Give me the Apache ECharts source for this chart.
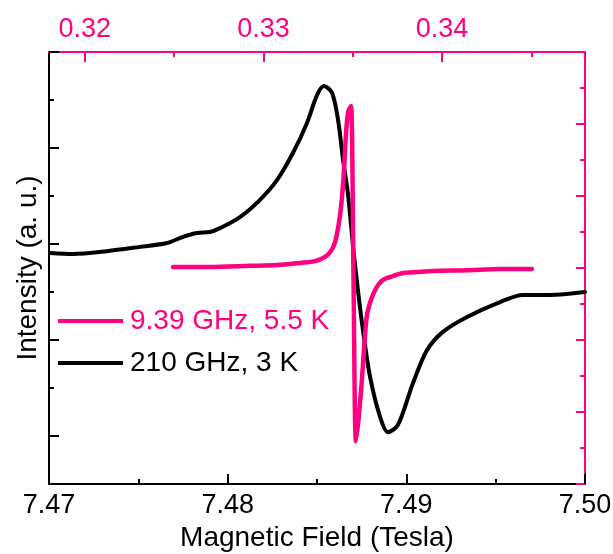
<!DOCTYPE html>
<html>
<head>
<meta charset="utf-8">
<script src="https://cdn.jsdelivr.net/npm/echarts@6/dist/echarts.min.js"></script>
<style>
html,body{margin:0;padding:0;background:#fff;}
#chart{width:613px;height:554px;}
</style>
</head>
<body>
<div id="chart"></div>
<script>
// 210 GHz, 3 K (bottom axis, Tesla)
var blackField = [7.47006, 7.47134, 7.47325, 7.47509, 7.47660, 7.47750, 7.47828, 7.47901, 7.47957, 7.48069,
  7.48181, 7.48276, 7.48366, 7.48444, 7.48500, 7.48539, 7.48584, 7.48618, 7.48646, 7.48674,
  7.48701, 7.48729, 7.48757, 7.48797, 7.48853, 7.48897, 7.48953, 7.49037, 7.49116, 7.49205,
  7.49340, 7.49524, 7.49653, 7.49804, 7.50000];
var blackIntensity = [3.81, 3.79, 3.85, 3.94, 4.02, 4.15, 4.23, 4.25, 4.33, 4.56,
  4.92, 5.33, 5.90, 6.52, 7.10, 7.29, 7.15, 6.58, 5.75, 5.02,
  3.98, 3.04, 2.21, 1.23, 0.40, 0.08, 0.23, 1.10, 1.79, 2.17,
  2.48, 2.79, 2.94, 2.94, 3.00];
// 9.39 GHz, 5.5 K (top axis, Tesla)
var pinkField = [0.32494, 0.32701, 0.32925, 0.33076, 0.33205, 0.33289, 0.33345, 0.33378, 0.33401, 0.33418,
  0.33429, 0.33440, 0.33451, 0.33462, 0.33474, 0.33490, 0.33504, 0.33518, 0.33532, 0.33550,
  0.33578, 0.33602, 0.33634, 0.33669, 0.33709, 0.33781, 0.33860, 0.33949, 0.34140, 0.34324,
  0.34503];
var pinkIntensity = [6.03, 6.03, 6.06, 6.08, 6.14, 6.19, 6.31, 6.47, 6.72, 7.11,
  7.47, 7.97, 8.72, 9.69, 10.33, 10.50, 5.83, 1.19, 1.78, 2.81,
  4.64, 5.11, 5.47, 5.67, 5.75, 5.86, 5.89, 5.92, 5.94, 5.97,
  5.97];
var seriesNames = ['210 GHz, 3 K', '9.39 GHz, 5.5 K'];

// axis ranges and tick values
var bottomRange = [7.47, 7.50];
var bottomMajor = [7.47, 7.48, 7.49, 7.50];
var bottomMinor = [7.475, 7.485, 7.495];
var topRange = [0.318, 0.348];
var topMajor = [0.32, 0.33, 0.34];
var topMinor = [0.325, 0.335, 0.345];
var leftRange = [-1, 8];
var leftMajor = [0, 2, 4, 6, 8];
var leftMinor = [1, 3, 5, 7];
var rightRange = [0, 12];
var rightMajor = [0, 2, 4, 6, 8, 10, 12];
var rightMinor = [1, 3, 5, 7, 9, 11];
var xTitle = 'Magnetic Field (Tesla)';
var yTitle = 'Intensity (a. u.)';

var PINK = '#FF0080';
var FONT = '"Liberation Sans", Arial, sans-serif';
var GRID = { left: 49, right: 28, top: 52, bottom: 70, containLabel: false, outerBoundsMode: 'none' };

function pairs(xs, ys) { return xs.map(function (x, i) { return [x, ys[i]]; }); }

function majorAxis(pos, range, major, color, tickLen, labels, fmt) {
  return {
    type: 'value', position: pos, min: range[0], max: range[1], gridIndex: 0,
    axisLine: { show: true, onZero: false, lineStyle: { color: color, width: 2 } },
    axisTick: { show: true, inside: true, length: tickLen, customValues: major,
      lineStyle: { color: color, width: 2 } },
    splitLine: { show: false },
    axisLabel: labels ? { show: true, customValues: major, fontSize: 27, color: color,
      margin: 8, fontFamily: FONT, formatter: fmt } : { show: false }
  };
}
function minorAxis(pos, range, minor, color) {
  return {
    type: 'value', position: pos, min: range[0], max: range[1], gridIndex: 1,
    axisLine: { show: false, onZero: false },
    axisTick: { show: true, inside: true, length: 5, customValues: minor,
      lineStyle: { color: color, width: 2 } },
    splitLine: { show: false },
    axisLabel: { show: false }
  };
}

var xBottom = majorAxis('bottom', bottomRange, bottomMajor, '#000', 10, true,
  function (v) { return v.toFixed(2); });
xBottom.name = xTitle;
xBottom.nameLocation = 'middle';
xBottom.nameGap = 36;
xBottom.nameTextStyle = { fontSize: 28, color: '#000', fontFamily: FONT };

var xTop = majorAxis('top', topRange, topMajor, PINK, 10, true,
  function (v) { return v.toFixed(2); });
xTop.axisLabel.margin = 9;

var yLeft = majorAxis('left', leftRange, leftMajor, '#000', 10, false);
yLeft.name = yTitle;
yLeft.nameLocation = 'middle';
yLeft.nameGap = 7;
yLeft.nameRotate = 90;
yLeft.nameTextStyle = { fontSize: 28, color: '#000', fontFamily: FONT };

var yRight = majorAxis('right', rightRange, rightMajor, PINK, 9, false);

var chart = echarts.init(document.getElementById('chart'));
chart.setOption({
  animation: false,
  backgroundColor: '#fff',
  textStyle: { fontFamily: FONT },
  grid: [GRID, GRID],
  legend: {
    orient: 'vertical', left: 53, top: 302, itemWidth: 65, itemHeight: 4, itemGap: 14,
    icon: 'rect',
    textStyle: { fontSize: 28, fontFamily: FONT, padding: [0, 0, 0, 2] },
    data: [
      { name: seriesNames[1], textStyle: { color: PINK } },
      { name: seriesNames[0], textStyle: { color: '#000' } }
    ]
  },
  xAxis: [
    xBottom,
    xTop,
    minorAxis('bottom', bottomRange, bottomMinor, '#000'),
    minorAxis('top', topRange, topMinor, PINK)
  ],
  yAxis: [
    yLeft,
    yRight,
    minorAxis('left', leftRange, leftMinor, '#000'),
    minorAxis('right', rightRange, rightMinor, PINK)
  ],
  series: [
    {
      name: seriesNames[0], type: 'line', xAxisIndex: 0, yAxisIndex: 0,
      data: pairs(blackField, blackIntensity),
      showSymbol: false, symbol: 'none', smooth: 0.3,
      color: '#000', lineStyle: { color: '#000', width: 4, cap: 'round', join: 'round' }
    },
    {
      name: seriesNames[1], type: 'line', xAxisIndex: 1, yAxisIndex: 1,
      data: pairs(pinkField, pinkIntensity),
      showSymbol: false, symbol: 'none', smooth: 0.3,
      color: PINK, lineStyle: { color: PINK, width: 4.5, cap: 'round', join: 'round' }
    }
  ]
});
</script>
</body>
</html>
